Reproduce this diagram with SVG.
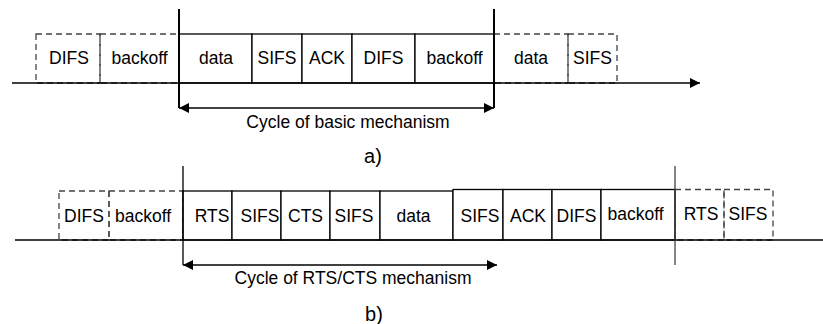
<svg xmlns="http://www.w3.org/2000/svg" width="823" height="324" viewBox="0 0 823 324">
<style>
  text { font-family: "Liberation Sans", Arial, sans-serif; font-size: 17.5px; fill: #000; text-anchor: middle; }
  .solid { fill: #fff; stroke: #000; stroke-width: 1.3; }
  .dash { fill: none; stroke: #444; stroke-width: 1.3; stroke-dasharray: 6 4; }
  .axis { stroke: #000; stroke-width: 1.3; fill: none; }
  .mark { stroke: #000; stroke-width: 2; fill: none; }
  .thin { stroke: #333; stroke-width: 1.2; fill: none; }
  .cap { font-size: 20px; }
</style>
<defs>
  <marker id="ah" markerUnits="userSpaceOnUse" markerWidth="11" markerHeight="10" refX="10" refY="5" orient="auto-start-reverse">
    <path d="M0,0 L10,5 L0,10 Z" fill="#000"/>
  </marker>
</defs>

<!-- Panel a -->
<g id="a-difs-pre"><rect class="dash" x="36" y="34" width="64" height="49"/><text x="69" y="64">DIFS</text></g>
<g id="a-backoff-pre"><rect class="dash" x="100" y="34" width="79" height="49"/><text x="139.5" y="64">backoff</text></g>
<g id="a-data"><rect class="solid" x="179" y="34" width="73" height="49"/><text x="216" y="64">data</text></g>
<g id="a-sifs"><rect class="solid" x="252" y="34" width="50" height="49"/><text x="277" y="64">SIFS</text></g>
<g id="a-ack"><rect class="solid" x="302" y="34" width="50" height="49"/><text x="327" y="64">ACK</text></g>
<g id="a-difs"><rect class="solid" x="352" y="34" width="63" height="49"/><text x="383.5" y="64">DIFS</text></g>
<g id="a-backoff"><rect class="solid" x="415" y="34" width="79" height="49"/><text x="454.5" y="64">backoff</text></g>
<g id="a-data-next"><rect class="dash" x="494" y="34" width="74" height="49"/><text x="531" y="64">data</text></g>
<g id="a-sifs-next"><rect class="dash" x="568" y="34" width="49" height="49"/><text x="592.5" y="64">SIFS</text></g>
<g id="a-cycle-label"><text x="348" y="128">Cycle of basic mechanism</text></g>
<g id="a-caption"><text class="cap" x="373" y="163">a)</text></g>

<!-- Panel b -->
<g id="b-difs-pre"><rect class="dash" x="59" y="191" width="50" height="49"/><text x="84" y="222">DIFS</text></g>
<g id="b-backoff-pre"><rect class="dash" x="109" y="191" width="74" height="49"/><text x="143" y="222">backoff</text></g>
<g id="b-rts"><rect class="solid" x="183" y="191" width="49" height="49"/><text x="212" y="222">RTS</text></g>
<g id="b-sifs1"><rect class="solid" x="232" y="191" width="49" height="49"/><text x="260" y="222">SIFS</text></g>
<g id="b-cts"><rect class="solid" x="281" y="191" width="49" height="49"/><text x="305.5" y="222">CTS</text></g>
<g id="b-sifs2"><rect class="solid" x="330" y="191" width="50" height="49"/><text x="354" y="222">SIFS</text></g>
<g id="b-data"><rect class="solid" x="380" y="191" width="73" height="49"/><text x="413.5" y="222">data</text></g>
<g id="b-sifs3"><rect class="solid" x="453" y="189.5" width="50" height="50.5"/><text x="480" y="222">SIFS</text></g>
<g id="b-ack"><rect class="solid" x="503" y="189.5" width="49" height="50.5"/><text x="528" y="222">ACK</text></g>
<g id="b-difs"><rect class="solid" x="552" y="189.5" width="49" height="50.5"/><text x="576.5" y="222">DIFS</text></g>
<g id="b-backoff"><rect class="solid" x="601" y="189.5" width="74" height="50.5"/><text x="635.5" y="220">backoff</text></g>
<g id="b-rts-next"><rect class="dash" x="675" y="189.5" width="49" height="50.5"/><text x="701" y="220">RTS</text></g>
<g id="b-sifs-next"><rect class="dash" x="724" y="189.5" width="49" height="50.5"/><text x="748" y="220">SIFS</text></g>
<g id="b-cycle-label"><text x="353" y="284">Cycle of RTS/CTS mechanism</text></g>
<g id="b-caption"><text class="cap" x="374" y="321">b)</text></g>

<!-- Connectors -->
<g id="connectors">
  <line class="axis" x1="12" y1="83" x2="700" y2="83" marker-end="url(#ah)"/>
  <line class="mark" x1="179" y1="9" x2="179" y2="108"/>
  <line class="mark" x1="494" y1="9" x2="494" y2="108"/>
  <line class="axis" x1="179" y1="108" x2="494" y2="108" marker-start="url(#ah)" marker-end="url(#ah)"/>

  <line class="axis" x1="15" y1="240" x2="823" y2="240"/>
  <line class="axis" x1="183" y1="166" x2="183" y2="265"/>
  <line class="thin" x1="675" y1="166" x2="675" y2="265"/>
  <line class="axis" x1="183" y1="265" x2="497" y2="265" marker-start="url(#ah)" marker-end="url(#ah)"/>
</g>
</svg>
